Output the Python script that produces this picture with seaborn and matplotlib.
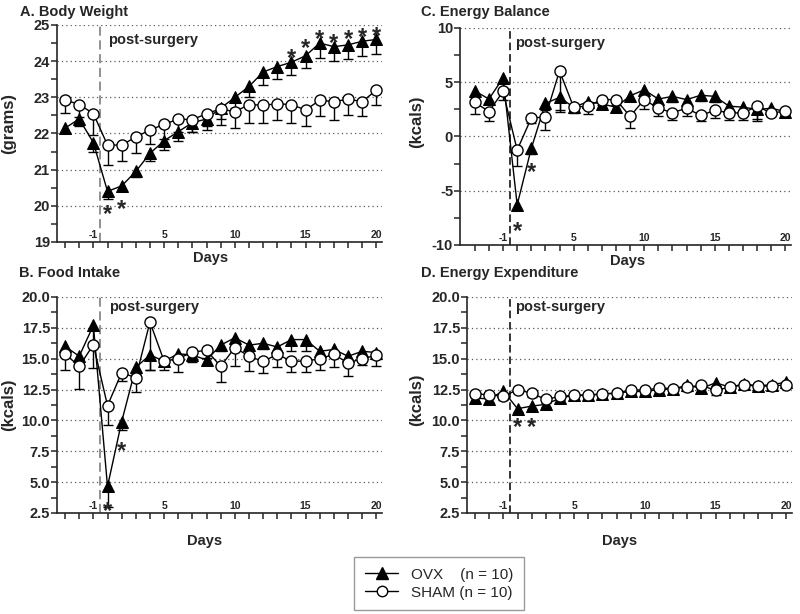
import numpy as np
import matplotlib
matplotlib.use("Agg")
import matplotlib.pyplot as plt
from matplotlib.lines import Line2D
from matplotlib.ticker import MultipleLocator, FormatStrFormatter
import seaborn as sns

sns.set_style("ticks")
plt.rcParams["font.family"] = ["Liberation Sans", "DejaVu Sans"]
plt.rcParams["axes.unicode_minus"] = False

# days of the study (no day 0 = surgery)
days = [-3, -2, -1, 1, 2, 3, 4, 5, 6, 7, 8, 9, 10, 11, 12, 13, 14, 15, 16, 17, 18, 19, 20]
labelled_days = [-1, 5, 10, 15, 20]

# A. Body Weight (grams)
ovx_bw = [22.15, 22.4, 21.75, 20.4, 20.55, 20.95, 21.45, 21.8, 22.05, 22.3, 22.4, 22.7,
          23.0, 23.3, 23.7, 23.85, 23.97, 24.15, 24.5, 24.4, 24.45, 24.55, 24.6]
ovx_bw_err = [0.15, 0.2, 0.25, 0.2, 0.15, 0.15, 0.2, 0.25, 0.25, 0.25, 0.3, 0.3,
              0.3, 0.3, 0.35, 0.35, 0.35, 0.35, 0.4, 0.4, 0.4, 0.4, 0.4]
sham_bw = [22.93, 22.8, 22.55, 21.68, 21.68, 21.9, 22.1, 22.25, 22.4, 22.38, 22.55, 22.68,
           22.6, 22.8, 22.78, 22.82, 22.8, 22.65, 22.92, 22.88, 22.95, 22.88, 23.2]
sham_bw_err = [0.35, 0.35, 0.6, 0.55, 0.45, 0.45, 0.4, 0.4, 0.35, 0.35, 0.35, 0.45,
               0.45, 0.5, 0.5, 0.45, 0.5, 0.45, 0.45, 0.5, 0.45, 0.4, 0.4]
stars_bw_day = [1, 2, 14, 15, 16, 17, 18, 19, 20]
stars_bw_y = [19.97, 20.1, 24.27, 24.55, 24.8, 24.7, 24.8, 24.85, 24.88]

# B. Food Intake (kcals)
ovx_fi = [16.0, 15.2, 17.7, 4.65, 9.9, 14.3, 15.3, 14.8, 15.4, 15.3, 14.9, 16.1,
          16.7, 16.1, 16.25, 15.95, 16.55, 16.55, 15.6, 15.75, 15.2, 15.6, 15.5]
ovx_fi_err = [0.6, 0.5, 1.4, 1.7, 0.7, 0.5, 1.2, 0.4, 0.4, 0.6, 0.4, 0.5,
              0.5, 0.5, 0.5, 0.4, 0.9, 0.9, 0.5, 0.5, 0.5, 0.5, 0.5]
sham_fi = [15.4, 14.38, 16.13, 11.2, 13.87, 13.46, 17.97, 14.8, 15.0, 15.54, 15.68, 14.38,
           15.9, 15.2, 14.78, 15.35, 14.8, 14.8, 15.0, 15.35, 14.65, 15.0, 15.27]
sham_fi_err = [1.3, 1.8, 1.9, 1.6, 0.7, 1.15, 3.9, 0.75, 1.1, 0.5, 0.6, 1.25,
               1.5, 1.2, 0.9, 1.0, 0.9, 0.85, 0.95, 1.0, 1.05, 0.55, 0.9]
stars_fi_day = [1, 2]
stars_fi_y = [3.2, 8.1]

# C. Energy Balance (kcals)
ovx_eb = [4.2, 3.45, 5.4, -6.3, -1.1, 3.05, 3.6, 2.7, 3.2, 3.0, 2.7, 3.75,
          4.3, 3.45, 3.7, 3.4, 3.8, 3.7, 2.8, 2.7, 2.5, 2.6, 2.3]
ovx_eb_err = [0.4, 0.4, 1.0, 0.5, 0.55, 0.6, 1.2, 0.4, 0.4, 0.4, 0.4, 0.5,
              0.5, 0.5, 0.5, 0.5, 0.5, 0.5, 0.5, 0.5, 0.9, 0.4, 0.4]
sham_eb = [3.15, 2.3, 4.15, -1.25, 1.7, 1.8, 6.05, 2.7, 2.8, 3.4, 3.4, 1.85,
           3.4, 2.6, 2.2, 2.6, 1.95, 2.4, 2.2, 2.15, 2.8, 2.15, 2.35]
sham_eb_err = [1.05, 0.9, 0.8, 1.5, 0.5, 1.2, 3.8, 0.55, 0.7, 0.5, 0.5, 1.1,
               0.9, 0.75, 0.7, 0.75, 0.55, 0.7, 0.7, 0.6, 1.4, 0.3, 0.5]
stars_eb_day = [1, 2]
stars_eb_y = [-8.05, -2.65]

# D. Energy Expenditure (kcals)
ovx_ee = [11.8, 11.75, 12.38, 10.95, 11.16, 11.3, 11.8, 12.05, 12.05, 12.15, 12.2, 12.35,
          12.35, 12.5, 12.55, 12.85, 12.6, 13.05, 12.7, 12.95, 12.8, 12.9, 13.1]
ovx_ee_err = [0.3, 0.3, 0.3, 0.25, 0.25, 0.25, 0.3, 0.3, 0.3, 0.3, 0.3, 0.3,
              0.3, 0.3, 0.3, 0.3, 0.3, 0.3, 0.3, 0.3, 0.3, 0.3, 0.3]
sham_ee = [12.16, 12.08, 11.95, 12.49, 12.2, 11.7, 11.95, 12.03, 12.03, 12.16, 12.2, 12.5,
           12.43, 12.65, 12.57, 12.7, 12.84, 12.43, 12.7, 12.89, 12.78, 12.78, 12.89]
sham_ee_err = [0.3, 0.3, 0.3, 0.3, 0.3, 0.3, 0.3, 0.3, 0.3, 0.3, 0.3, 0.3,
               0.3, 0.3, 0.3, 0.35, 0.3, 0.35, 0.3, 0.3, 0.35, 0.3, 0.3]
stars_ee_day = [1, 2]
stars_ee_y = [10.0, 10.0]

pos = np.arange(len(days))


def lower_errbar(ax, y, err):
    y = np.array(y)
    err = np.array(err)
    _, caps, _ = ax.errorbar(pos, y, yerr=[err, np.zeros_like(err)], fmt="none",
                             ecolor="black", elinewidth=1, capsize=3.5,
                             capthick=1, zorder=1.5)
    caps[1].set_visible(False)


def panel(ax, ovx, ovx_err, sham, sham_err, ylim, major, fmt,
          star_days, star_y, dash_color, dash_style, xmin, text_dx):
    lower_errbar(ax, ovx, ovx_err)
    lower_errbar(ax, sham, sham_err)
    sns.lineplot(x=pos, y=ovx, ax=ax, color="black", lw=1, marker="^",
                 markersize=8.5, markeredgecolor="black", markerfacecolor="black",
                 zorder=3)
    sns.lineplot(x=pos, y=sham, ax=ax, color="black", lw=1, marker="o",
                 markersize=8, markeredgecolor="black", markerfacecolor="white",
                 markeredgewidth=1, zorder=3)

    ax.set_xlim(xmin, 22.4)
    ax.set_ylim(*ylim)
    ax.yaxis.set_major_locator(MultipleLocator(major))
    ax.yaxis.set_minor_locator(MultipleLocator(major / 2))
    ax.yaxis.set_major_formatter(FormatStrFormatter(fmt))
    ax.yaxis.grid(True, which="major", linestyle=(0, (1, 2.5)), color="0.35", lw=0.9)
    ax.set_axisbelow(True)

    ax.set_xticks(pos)
    ax.set_xticklabels([str(d) if d in labelled_days else "" for d in days])
    ax.tick_params(axis="x", direction="out", length=4, width=1.1, pad=-12.5,
                   labelsize=7.5)
    for lab in ax.get_xticklabels():
        lab.set_fontweight("bold")
    ax.tick_params(axis="y", which="major", direction="out", length=4, width=1.1,
                   pad=1, labelsize=10.5)
    ax.tick_params(axis="y", which="minor", direction="out", length=4, width=1.1)
    for lab in ax.get_yticklabels():
        lab.set_fontweight("bold")

    sns.despine(ax=ax)
    for s in ["left", "bottom"]:
        ax.spines[s].set_linewidth(1.2)

    # surgery marker between day -1 and day 1
    ax.axvline(2.5, color=dash_color, ls=dash_style, lw=1.1, zorder=1)
    ax.text(2.5 + text_dx, 0.93, "post-surgery", transform=ax.get_xaxis_transform(),
            fontsize=10.5, fontweight="bold", ha="left", va="center")

    for d, sy in zip(star_days, star_y):
        ax.annotate("*", xy=(days.index(d), sy), xytext=(0, -10),
                    textcoords="offset points", ha="center", va="baseline",
                    fontsize=17, fontweight="bold")

    ax.set_xlabel("")
    ax.set_ylabel("")


fig = plt.figure(figsize=(8, 6.14), dpi=100)
axA = fig.add_axes([0.07125, 0.6059, 0.40625, 0.3534])
axC = fig.add_axes([0.575, 0.601, 0.41375, 0.3534])
axB = fig.add_axes([0.07125, 0.1645, 0.40625, 0.3518])
axD = fig.add_axes([0.58375, 0.1645, 0.40625, 0.3518])

panel(axA, ovx_bw, ovx_bw_err, sham_bw, sham_bw_err, (19, 25), 1, "%d",
      stars_bw_day, stars_bw_y, "0.45", (0, (6, 3)), -0.57, 0.55)
panel(axB, ovx_fi, ovx_fi_err, sham_fi, sham_fi_err, (2.5, 20), 2.5, "%.1f",
      stars_fi_day, stars_fi_y, "0.45", (0, (6, 3)), -0.57, 0.6)
panel(axC, ovx_eb, ovx_eb_err, sham_eb, sham_eb_err, (-10, 10), 5, "%d",
      stars_eb_day, stars_eb_y, "black", (0, (5, 2.5)), -1.05, 0.35)
panel(axD, ovx_ee, ovx_ee_err, sham_ee, sham_ee_err, (2.5, 20), 2.5, "%.1f",
      stars_ee_day, stars_ee_y, "black", (0, (5, 2.5)), -0.57, 0.35)

axB.texts[0].set_y(0.954)
axD.texts[0].set_y(0.954)

# "Days" axis labels
for ax, lx, ly in [(axA, 0.474, -0.04), (axB, 0.455, -0.095),
                   (axC, 0.505, -0.04), (axD, 0.47, -0.095)]:
    ax.set_xlabel("Days", fontsize=10.5, fontweight="bold", va="top")
    ax.xaxis.set_label_coords(lx, ly)

# y labels
fig.text(9 / 800, 1 - 123 / 614, "(grams)", rotation=90, ha="center", va="center",
         fontsize=12, fontweight="bold")
fig.text(417 / 800, 1 - 122 / 614, "(kcals)", rotation=90, ha="center", va="center",
         fontsize=12, fontweight="bold")
fig.text(9 / 800, 1 - 405 / 614, "(kcals)", rotation=90, ha="center", va="center",
         fontsize=12, fontweight="bold")
fig.text(417 / 800, 1 - 400 / 614, "(kcals)", rotation=90, ha="center", va="center",
         fontsize=12, fontweight="bold")

# panel titles
for tx, ty, t in [(20, 12, "A. Body Weight"), (421, 12, "C. Energy Balance"),
                  (19, 273, "B. Food Intake"), (421, 273, "D. Energy Expenditure")]:
    fig.text(tx / 800, 1 - ty / 614, t, ha="left", va="center",
             fontsize=10.5, fontweight="bold")

handles = [
    Line2D([], [], color="black", lw=1, marker="^", markersize=8,
           markerfacecolor="black"),
    Line2D([], [], color="black", lw=1, marker="o", markersize=7.5,
           markerfacecolor="white"),
]
leg = fig.legend(handles, ["OVX    (n = 10)", "SHAM (n = 10)"],
                 loc="upper left", bbox_to_anchor=(354 / 800, 1 - 557 / 614),
                 borderaxespad=0, fontsize=11, frameon=True, fancybox=False,
                 edgecolor="0.5", handlelength=2.2, handletextpad=0.8,
                 labelspacing=0.25, borderpad=0.7)
leg.get_frame().set_linewidth(1)

fig.savefig("out.png", dpi=100)
